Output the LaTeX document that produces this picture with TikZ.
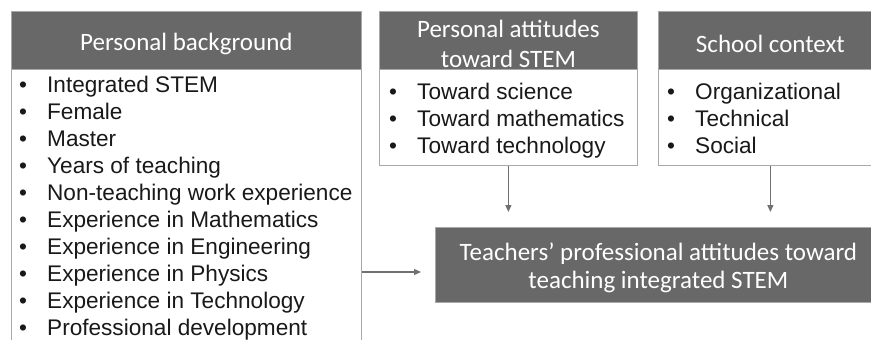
\documentclass[tikz,border=0pt]{standalone}
\usepackage{fontspec}
\setmainfont{Liberation Sans}
\newfontfamily\carl{Carlito}
\usetikzlibrary{arrows.meta}
\definecolor{hdrgray}{HTML}{686868}
\definecolor{edgegray}{HTML}{A8A8A8}
\definecolor{arrgray}{HTML}{707070}
\tikzset{
  hdr/.style={draw=edgegray, line width=0.8pt, fill=hdrgray, inner sep=0pt, anchor=north west},
  hdrtext/.style={text=white, inner sep=0pt, font=\carl\fontsize{25}{30}\selectfont, align=center},
  bodybox/.style={draw=edgegray, line width=0.8pt, fill=white, inner sep=0pt, anchor=north west},
  listtext/.style={inner sep=0pt, anchor=north west, align=left, text=black!90, font=\fontsize{22.6}{27}\selectfont},
  arr/.style={draw=arrgray, line width=1.2pt, -{Triangle[length=7pt,width=6pt]}},
}
\newcommand{\bul}{\makebox[28pt][l]{•}}
\begin{document}
\begin{tikzpicture}[x=1pt,y=-1pt]
\useasboundingbox (0,0) rectangle (871,340);
% Personal background
\node[bodybox, minimum width=350pt, minimum height=282pt] (pbb) at (11,68.5) {};
\node[hdr, minimum width=350pt, minimum height=57.5pt] (pbh) at (11,11) {};
\node[hdrtext] (pbl) at ([yshift=-4pt]pbh.center) {Personal background};
\node[listtext] (pbt) at (19,75.5) {\bul Integrated STEM\\ \bul Female\\ \bul Master\\ \bul Years of teaching\\ \bul Non-teaching work experience\\ \bul Experience in Mathematics\\ \bul Experience in Engineering\\ \bul Experience in Physics\\ \bul Experience in Technology\\ \bul Professional development};
% Personal attitudes
\node[bodybox, minimum width=258pt, minimum height=96.5pt] (pab) at (379,68.5) {};
\node[hdr, minimum width=258pt, minimum height=57.5pt] (pah) at (379,11) {};
\node[hdrtext] (pal) at ([yshift=-4pt]pah.center) {Personal attitudes\\toward STEM};
\node[listtext] (pat) at (389,82.5) {\bul Toward science\\ \bul Toward mathematics\\ \bul Toward technology};
% School context
\node[bodybox, minimum width=224pt, minimum height=96.5pt] (scb) at (658,68.5) {};
\node[hdr, minimum width=224pt, minimum height=57.5pt] (sch) at (658,11) {};
\node[hdrtext] (scl) at ([yshift=-4pt]sch.center) {School context};
\node[listtext] (sct) at (667,82.5) {\bul Organizational\\ \bul Technical\\ \bul Social};
% Teachers
\node[hdr, minimum width=446pt, minimum height=74.5pt] (tch) at (435,227) {};
\node[hdrtext, font=\carl\fontsize{25}{28}\selectfont] (tcl) at ([yshift=-3pt]tch.center) {Teachers’ professional attitudes toward\\teaching integrated STEM};
% connectors
\coordinate (hy) at (0,272);
\draw[arr, shorten >=15pt] (pab.south) -- (pab.south |- tch.north);
\draw[arr, shorten >=15pt] (scb.south) -- (scb.south |- tch.north);
\draw[arr, shorten >=14pt] (pbb.east |- hy) -- (tch.west |- hy);
\end{tikzpicture}
\end{document}
